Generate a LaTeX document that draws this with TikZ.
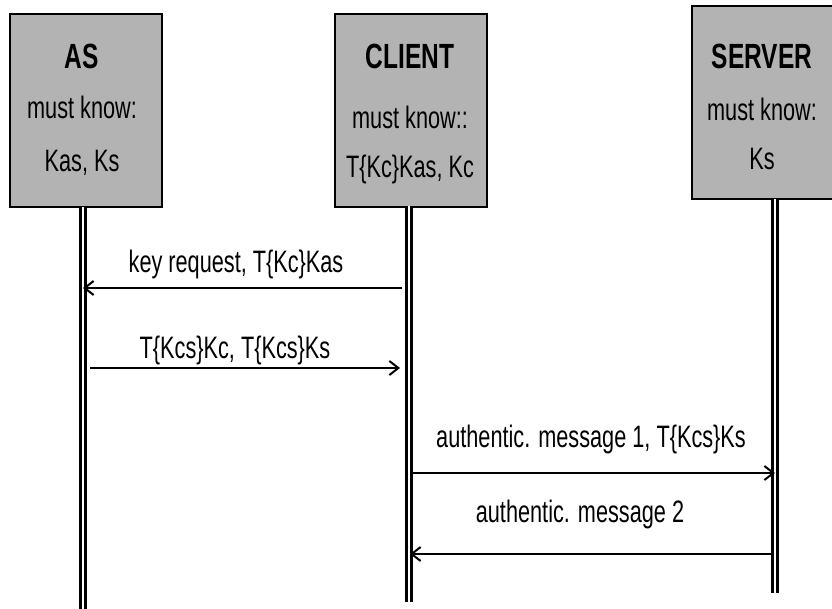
\documentclass[tikz,border=0pt]{standalone}
\usepackage{fontspec}
\setmainfont{Liberation Sans}[FakeStretch=0.7]
\usetikzlibrary{arrows.meta}
\definecolor{boxgray}{RGB}{179,179,179}
\begin{document}
\begin{tikzpicture}[x=1pt,y=-1pt,
  actor/.style={draw=black, line width=2.5pt, fill=boxgray, minimum width=152pt, minimum height=193pt, anchor=north west, inner sep=0pt, outer sep=0pt},
  life/.style={draw=black, line width=3pt, double=white, double distance=2pt},
  msg/.style={line width=2pt, -{Straight Barb[length=9pt,width=14pt,line width=2pt]}},
  ttl/.style={font=\fontsize{35}{40}\selectfont\bfseries, anchor=base, inner sep=0pt},
  txt/.style={font=\fontsize{31}{36}\selectfont, anchor=base, inner sep=0pt}]
\useasboundingbox (0,0) rectangle (832,608);
\clip (0,0) rectangle (832,608);
% actor boxes
\node[actor] (as) at (10,14) {};
\node[actor] (cl) at (335,14) {};
\node[actor] (sv) at (692,6) {};
% box texts
\node[ttl] (asT) at (82,68) {AS};
\node[txt] (asK) at (82,118) {must know:};
\node[txt] (asV) at (82,171) {Kas, Ks};
\node[ttl] (clT) at (410,68) {CLIENT};
\node[txt] (clK) at (410,128) {must know::};
\node[txt] (clV) at (410,177) {T\{Kc\}Kas, Kc};
\node[ttl] (svT) at (762,68) {SERVER};
\node[txt] (svK) at (762,120) {must know:};
\node[txt] (svV) at (762,169) {Ks};
% lifelines
\coordinate (asTop) at (83,207);
\coordinate (asBot) at (83,610);
\coordinate (clTop) at (409,206);
\coordinate (clBot) at (409,602);
\coordinate (svTop) at (775,199);
\coordinate (svBot) at (775,593);
\draw[life] (asTop) -- (asBot);
\draw[life] (clTop) -- (clBot);
\draw[life] (svTop) -- (svBot);
% message end points
\coordinate (m1s) at (402,288);
\coordinate (m1e) at (83,288);
\coordinate (m2s) at (90,368);
\coordinate (m2e) at (400,368);
\coordinate (m3s) at (412,473);
\coordinate (m3e) at (775,473);
\coordinate (m4s) at (772,554);
\coordinate (m4e) at (410,554);
\draw[msg] (m1s) -- (m1e);
\draw[msg] (m2s) -- (m2e);
\draw[msg] (m3s) -- (m3e);
\draw[msg] (m4s) -- (m4e);
% message labels
\node[txt] (l1) at (236,272) {key request, T\{Kc\}Kas};
\node[txt] (l2) at (235,358) {T\{Kcs\}Kc, T\{Kcs\}Ks};
\node[txt] (l3) at (591,447) {authentic. message 1, T\{Kcs\}Ks};
\node[txt] (l4) at (580,522) {authentic. message 2};
\end{tikzpicture}
\end{document}
